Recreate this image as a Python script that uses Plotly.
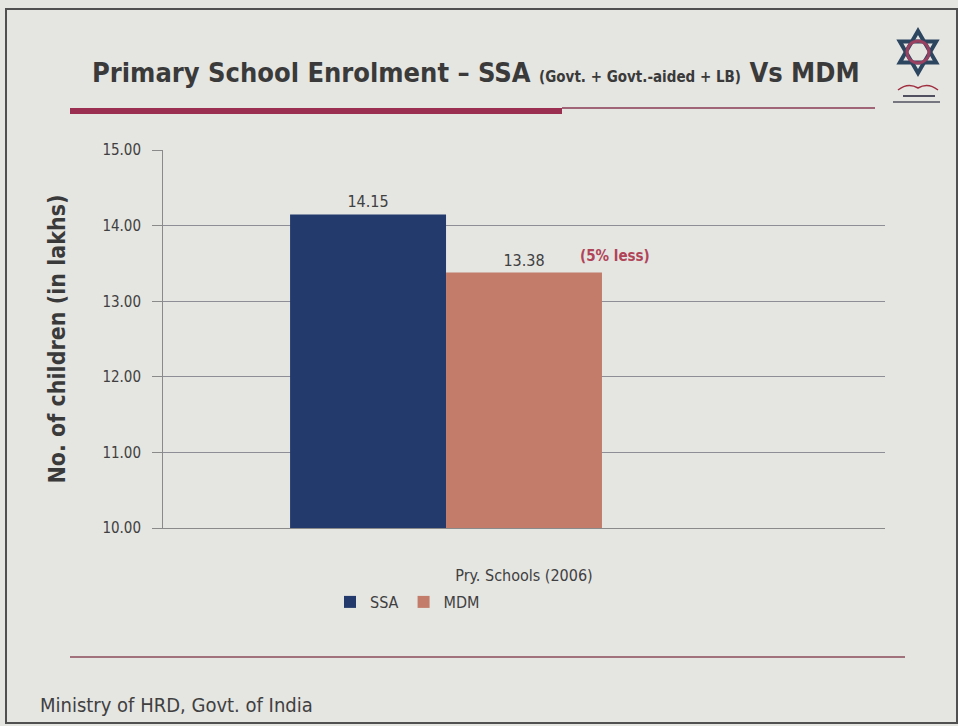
import plotly.graph_objects as go

categories = ["Pry. Schools (2006)"]
series_names = ["SSA", "MDM"]
ssa_values = [14.15]
mdm_values = [13.38]
ssa_labels = ["14.15"]
mdm_labels = ["13.38"]
y_ticks = [10, 11, 12, 13, 14, 15]
y_tick_labels = ["10.00", "11.00", "12.00", "13.00", "14.00", "15.00"]

NARROW = "DejaVu Sans Condensed, Liberation Sans Narrow, Arial Narrow, Liberation Sans, Arial"
W, H = 958, 726
L, R, T, B = 163, 73, 150, 198
PW, PH = W - L - R, H - T - B


def px(x):
    return (x - L) / PW


def py(y):
    return (H - B - y) / PH


fig = go.Figure()
fig.add_trace(go.Bar(
    x=categories, y=ssa_values, name=series_names[0],
    marker=dict(color="#223a6c", line=dict(width=0)),
    width=0.216, offset=-0.324,
    text=ssa_labels, textposition="outside",
    textfont=dict(family=NARROW, size=16, color="#404040"),
    cliponaxis=False,
))
fig.add_trace(go.Bar(
    x=categories, y=mdm_values, name=series_names[1],
    marker=dict(color="#c27c69", line=dict(width=0)),
    width=0.216, offset=-0.108,
    text=mdm_labels, textposition="outside",
    textfont=dict(family=NARROW, size=16, color="#404040"),
    cliponaxis=False,
))

# logo (star) centre and size in pixels
cx, cy, r = 918, 52, 21
up = [(cx, cy - r), (cx + 0.866 * r, cy + 0.5 * r), (cx - 0.866 * r, cy + 0.5 * r)]
dn = [(cx, cy + r), (cx + 0.866 * r, cy - 0.5 * r), (cx - 0.866 * r, cy - 0.5 * r)]


def tri_path(pts):
    return "M " + " L ".join(f"{px(a)},{py(b)}" for a, b in pts) + " Z"


shapes = [
    dict(type="rect", xref="paper", yref="paper", x0=px(6), x1=px(957), y0=py(723), y1=py(9),
         line=dict(color="#505050", width=2), fillcolor="rgba(0,0,0,0)", layer="below"),
    dict(type="rect", xref="paper", yref="paper", x0=px(70), x1=px(562), y0=py(114), y1=py(108),
         line=dict(width=0), fillcolor="#9a2f52"),
    dict(type="line", xref="paper", yref="paper", x0=px(562), x1=px(875), y0=py(108), y1=py(108),
         line=dict(color="#8a3a55", width=1.5)),
    dict(type="line", xref="paper", yref="paper", x0=px(70), x1=px(905), y0=py(657), y1=py(657),
         line=dict(color="#8a4a5a", width=1.5)),
    dict(type="path", xref="paper", yref="paper", path=tri_path(up),
         line=dict(color="#2d4660", width=4), fillcolor="rgba(0,0,0,0)"),
    dict(type="path", xref="paper", yref="paper", path=tri_path(dn),
         line=dict(color="#2d4660", width=4), fillcolor="rgba(0,0,0,0)"),
    dict(type="circle", xref="paper", yref="paper", x0=px(cx - 11), x1=px(cx + 11),
         y0=py(cy + 11), y1=py(cy - 11),
         line=dict(color="#9a4060", width=3), fillcolor="rgba(0,0,0,0)"),
    dict(type="path", xref="paper", yref="paper",
         path=f"M {px(898)},{py(90)} Q {px(908)},{py(82)} {px(918)},{py(88)} Q {px(928)},{py(82)} {px(938)},{py(90)}",
         line=dict(color="#a03040", width=1.5)),
    dict(type="line", xref="paper", yref="paper", x0=px(903), x1=px(935), y0=py(96), y1=py(96),
         line=dict(color="#505060", width=2)),
    dict(type="line", xref="paper", yref="paper", x0=px(893), x1=px(940), y0=py(102), y1=py(102),
         line=dict(color="#505060", width=1.5)),
]

annotations = [
    dict(xref="paper", yref="paper", x=px(90), y=py(72), xanchor="left", yanchor="middle",
         showarrow=False,
         text="<b>Primary School Enrolment – SSA <span style='font-size:15px'>(Govt. + Govt.-aided + LB)</span> Vs MDM</b>",
         font=dict(family=NARROW, size=27, color="#3a3a3a")),
    dict(xref="paper", yref="paper", x=px(578), y=py(256), xanchor="left", yanchor="middle",
         showarrow=False, text="<b>(5% less)</b>",
         font=dict(family=NARROW, size=15, color="#b04458")),
    dict(xref="paper", yref="paper", x=px(38), y=py(705), xanchor="left", yanchor="middle",
         showarrow=False, text="Ministry of HRD, Govt. of India",
         font=dict(family=NARROW, size=20, color="#404040")),
]

fig.update_layout(
    width=W, height=H,
    margin=dict(l=L, r=R, t=T, b=B),
    paper_bgcolor="#e5e5e2",
    plot_bgcolor="rgba(0,0,0,0)",
    barmode="overlay",
    showlegend=True,
    legend=dict(orientation="h", x=px(330), y=py(602), xanchor="left", yanchor="middle",
                font=dict(family=NARROW, size=16, color="#404040"),
                bgcolor="rgba(0,0,0,0)", itemwidth=30, tracegroupgap=0),
    xaxis=dict(type="category", showgrid=False, showline=True, linecolor="#8a8a8a", linewidth=1,
               ticks="", tickfont=dict(family=NARROW, size=16, color="#404040"),
               ticklabelstandoff=33),
    yaxis=dict(range=[10, 15.002], tickvals=y_ticks, ticktext=y_tick_labels,
               showgrid=True, gridcolor="#8e8e96", gridwidth=1,
               showline=True, linecolor="#8a8a8a", linewidth=1, zeroline=False,
               ticks="outside", ticklen=10, tickcolor="#8a8a8a",
               ticklabelstandoff=8,
               tickfont=dict(family=NARROW, size=15, color="#404040"),
               title=dict(text="<b>No. of children (in lakhs)</b>", standoff=30,
                          font=dict(family=NARROW, size=23, color="#3a3a3a"))),
    shapes=shapes,
    annotations=annotations,
    font=dict(family=NARROW),
)

fig.write_html("out.html", config={"displayModeBar": False},
               post_script="document.body.style.margin='0';document.body.style.padding='0';")
